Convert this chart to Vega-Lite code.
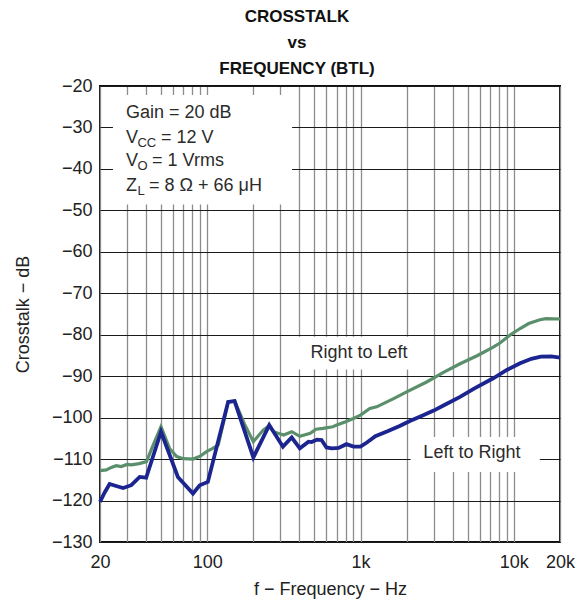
{
  "$schema": "https://vega.github.io/schema/vega-lite/v6.json",
  "width": 460,
  "height": 456,
  "autosize": {"type": "none"},
  "padding": {"left": 100, "top": 86, "right": 20, "bottom": 59},
  "background": "white",
  "title": {
    "text": ["CROSSTALK", "vs", "FREQUENCY (BTL)"],
    "fontSize": 17,
    "fontWeight": "bold",
    "font": "Liberation Sans",
    "lineHeight": 25.8,
    "anchor": "middle",
    "dx": -33,
    "dy": 10,
    "offset": 9,
    "color": "#111111"
  },
  "config": {
    "view": {"stroke": "#111111", "strokeWidth": 2},
    "font": "Liberation Sans"
  },
  "datasets": {
    "boxes": [
      {"f": 24.3, "f2": 358, "db": -22.2, "db2": -48.6},
      {"f": 346, "f2": 2440, "db": -80.5, "db2": -88.4},
      {"f": 2122, "f2": 14770, "db": -104.7, "db2": -113.1}
    ],
    "notes": [
      {"f": 29.5, "db": -27.8, "t": "Gain = 20 dB"},
      {"f": 29.5, "db": -33.7, "t": "V"},
      {"f": 50, "db": -33.7, "t": "= 12 V"},
      {"f": 29.5, "db": -39.3, "t": "V"},
      {"f": 43.7, "db": -39.3, "t": "= 1 Vrms"},
      {"f": 29.5, "db": -45.3, "t": "Z"},
      {"f": 41.8, "db": -45.3, "t": "= 8 Ω + 66 μH"},
      {"f": 472, "db": -85.5, "t": "Right to Left"},
      {"f": 2570, "db": -109.7, "t": "Left to Right"}
    ],
    "subs": [
      {"f": 29.5, "db": -33.7, "t": "CC"},
      {"f": 29.5, "db": -39.3, "t": "O"},
      {"f": 29.5, "db": -45.3, "t": "L"}
    ],
    "curves": [
      {"s": "Right to Left", "f": 20, "db": -112.8},
      {"s": "Right to Left", "f": 22, "db": -112.6},
      {"s": "Right to Left", "f": 23.7, "db": -112},
      {"s": "Right to Left", "f": 25.5, "db": -111.6},
      {"s": "Right to Left", "f": 27.5, "db": -111.8},
      {"s": "Right to Left", "f": 30, "db": -111.3},
      {"s": "Right to Left", "f": 32, "db": -111.4},
      {"s": "Right to Left", "f": 36, "db": -111.1},
      {"s": "Right to Left", "f": 40.2, "db": -110.6},
      {"s": "Right to Left", "f": 44, "db": -107},
      {"s": "Right to Left", "f": 50, "db": -102.2},
      {"s": "Right to Left", "f": 57, "db": -107.5},
      {"s": "Right to Left", "f": 63.3, "db": -109.4},
      {"s": "Right to Left", "f": 70, "db": -109.9},
      {"s": "Right to Left", "f": 81, "db": -110},
      {"s": "Right to Left", "f": 90, "db": -109.3},
      {"s": "Right to Left", "f": 99, "db": -108.2},
      {"s": "Right to Left", "f": 108, "db": -107.5},
      {"s": "Right to Left", "f": 118, "db": -106.6},
      {"s": "Right to Left", "f": 128, "db": -101},
      {"s": "Right to Left", "f": 137, "db": -96.2},
      {"s": "Right to Left", "f": 151, "db": -96},
      {"s": "Right to Left", "f": 175, "db": -101.5},
      {"s": "Right to Left", "f": 200, "db": -105.8},
      {"s": "Right to Left", "f": 232, "db": -103},
      {"s": "Right to Left", "f": 254, "db": -101.9},
      {"s": "Right to Left", "f": 270, "db": -103.4},
      {"s": "Right to Left", "f": 315, "db": -104.2},
      {"s": "Right to Left", "f": 356, "db": -103.4},
      {"s": "Right to Left", "f": 402, "db": -104.5},
      {"s": "Right to Left", "f": 470, "db": -103.8},
      {"s": "Right to Left", "f": 513, "db": -102.8},
      {"s": "Right to Left", "f": 570, "db": -102.6},
      {"s": "Right to Left", "f": 660, "db": -102.2},
      {"s": "Right to Left", "f": 700, "db": -101.8},
      {"s": "Right to Left", "f": 800, "db": -101},
      {"s": "Right to Left", "f": 898, "db": -100.2},
      {"s": "Right to Left", "f": 1000, "db": -99.4},
      {"s": "Right to Left", "f": 1150, "db": -97.8},
      {"s": "Right to Left", "f": 1275, "db": -97.4},
      {"s": "Right to Left", "f": 1644, "db": -95.4},
      {"s": "Right to Left", "f": 2000, "db": -93.8},
      {"s": "Right to Left", "f": 2700, "db": -91.4},
      {"s": "Right to Left", "f": 3500, "db": -89},
      {"s": "Right to Left", "f": 4460, "db": -87},
      {"s": "Right to Left", "f": 5800, "db": -85},
      {"s": "Right to Left", "f": 7340, "db": -83},
      {"s": "Right to Left", "f": 8120, "db": -82},
      {"s": "Right to Left", "f": 9500, "db": -80},
      {"s": "Right to Left", "f": 10980, "db": -78.5},
      {"s": "Right to Left", "f": 12500, "db": -77.3},
      {"s": "Right to Left", "f": 14800, "db": -76.4},
      {"s": "Right to Left", "f": 16200, "db": -76.1},
      {"s": "Right to Left", "f": 20000, "db": -76.2},
      {"s": "Left to Right", "f": 20, "db": -120.3},
      {"s": "Left to Right", "f": 21.5, "db": -118},
      {"s": "Left to Right", "f": 23.1, "db": -116},
      {"s": "Left to Right", "f": 25.5, "db": -116.5},
      {"s": "Left to Right", "f": 28.3, "db": -117},
      {"s": "Left to Right", "f": 32, "db": -116.3},
      {"s": "Left to Right", "f": 36.3, "db": -114.3},
      {"s": "Left to Right", "f": 40, "db": -114.5},
      {"s": "Left to Right", "f": 50, "db": -103.4},
      {"s": "Left to Right", "f": 64.4, "db": -114.3},
      {"s": "Left to Right", "f": 80.8, "db": -118.3},
      {"s": "Left to Right", "f": 89.4, "db": -116.3},
      {"s": "Left to Right", "f": 101, "db": -115.5},
      {"s": "Left to Right", "f": 137, "db": -96.2},
      {"s": "Left to Right", "f": 151, "db": -96},
      {"s": "Left to Right", "f": 200, "db": -109.6},
      {"s": "Left to Right", "f": 254, "db": -101.8},
      {"s": "Left to Right", "f": 312, "db": -107},
      {"s": "Left to Right", "f": 356, "db": -104.8},
      {"s": "Left to Right", "f": 402, "db": -107.4},
      {"s": "Left to Right", "f": 458, "db": -105.8},
      {"s": "Left to Right", "f": 480, "db": -105.9},
      {"s": "Left to Right", "f": 520, "db": -105.3},
      {"s": "Left to Right", "f": 557, "db": -105.4},
      {"s": "Left to Right", "f": 600, "db": -107.2},
      {"s": "Left to Right", "f": 650, "db": -107.4},
      {"s": "Left to Right", "f": 720, "db": -107.3},
      {"s": "Left to Right", "f": 809, "db": -106.4},
      {"s": "Left to Right", "f": 900, "db": -107},
      {"s": "Left to Right", "f": 1000, "db": -107},
      {"s": "Left to Right", "f": 1100, "db": -106},
      {"s": "Left to Right", "f": 1250, "db": -104.5},
      {"s": "Left to Right", "f": 1500, "db": -103.3},
      {"s": "Left to Right", "f": 1800, "db": -102},
      {"s": "Left to Right", "f": 2100, "db": -100.8},
      {"s": "Left to Right", "f": 2500, "db": -99.6},
      {"s": "Left to Right", "f": 3000, "db": -98.3},
      {"s": "Left to Right", "f": 3500, "db": -97},
      {"s": "Left to Right", "f": 4460, "db": -95},
      {"s": "Left to Right", "f": 5500, "db": -93},
      {"s": "Left to Right", "f": 7340, "db": -90.5},
      {"s": "Left to Right", "f": 9000, "db": -88.5},
      {"s": "Left to Right", "f": 10980, "db": -86.9},
      {"s": "Left to Right", "f": 13000, "db": -85.8},
      {"s": "Left to Right", "f": 15000, "db": -85.3},
      {"s": "Left to Right", "f": 17500, "db": -85.2},
      {"s": "Left to Right", "f": 20000, "db": -85.5}
    ]
  },
  "layer": [
    {
      "data": {"name": "boxes"},
      "mark": {"type": "rect", "fill": "white", "stroke": null},
      "encoding": {
        "x": {
          "field": "f",
          "type": "quantitative",
          "scale": {"type": "log", "domain": [20, 20000], "nice": false},
          "axis": {
            "title": "f − Frequency − Hz",
            "values": [20, 30, 40, 50, 60, 70, 80, 90, 100, 200, 300, 400, 500, 600, 700, 800, 900, 1000, 2000, 3000, 4000, 5000, 6000, 7000, 8000, 9000, 10000, 20000],
            "labelExpr": "datum.value == 20 ? '20' : datum.value == 100 ? '100' : datum.value == 1000 ? '1k' : datum.value == 10000 ? '10k' : datum.value == 20000 ? '20k' : ''",
            "grid": true,
            "gridColor": "#8c8c8c",
            "gridWidth": 1.3,
            "ticks": false,
            "domain": false,
            "labelFontSize": 18,
            "labelColor": "#222222",
            "labelPadding": 11,
            "labelOverlap": false,
            "labelFlush": false,
            "labelBound": false,
            "titleFontSize": 18,
            "titleFontWeight": "normal",
            "titleColor": "#222222",
            "titlePadding": 9
          }
        },
        "x2": {"field": "f2"},
        "y": {
          "field": "db",
          "type": "quantitative",
          "scale": {"domain": [-130, -20], "nice": false, "zero": false},
          "axis": {
            "title": "Crosstalk − dB",
            "values": [-130, -120, -110, -100, -90, -80, -70, -60, -50, -40, -30, -20],
            "grid": true,
            "gridColor": "#1a1a1a",
            "gridWidth": 1.2,
            "ticks": false,
            "domain": false,
            "labelFontSize": 18,
            "labelColor": "#222222",
            "labelPadding": 8,
            "labelFlush": false,
            "titleFontSize": 18,
            "titleFontWeight": "normal",
            "titleColor": "#222222",
            "titlePadding": 19
          }
        },
        "y2": {"field": "db2"}
      }
    },
    {
      "data": {"name": "notes"},
      "mark": {"type": "text", "align": "left", "baseline": "alphabetic", "fontSize": 18, "color": "#2b2b2b"},
      "encoding": {
        "x": {"field": "f", "type": "quantitative"},
        "y": {"field": "db", "type": "quantitative"},
        "text": {"field": "t"}
      }
    },
    {
      "data": {"name": "subs"},
      "mark": {"type": "text", "align": "left", "baseline": "alphabetic", "fontSize": 13, "dx": 11.5, "dy": 4, "color": "#2b2b2b"},
      "encoding": {
        "x": {"field": "f", "type": "quantitative"},
        "y": {"field": "db", "type": "quantitative"},
        "text": {"field": "t"}
      }
    },
    {
      "data": {"name": "curves"},
      "transform": [{"filter": "datum.s == 'Right to Left'"}],
      "mark": {"type": "line", "color": "#5a8f6b", "strokeWidth": 3.2},
      "encoding": {
        "x": {"field": "f", "type": "quantitative"},
        "y": {"field": "db", "type": "quantitative"}
      }
    },
    {
      "data": {"name": "curves"},
      "transform": [{"filter": "datum.s == 'Left to Right'"}],
      "mark": {"type": "line", "color": "#1c2490", "strokeWidth": 3.8},
      "encoding": {
        "x": {"field": "f", "type": "quantitative"},
        "y": {"field": "db", "type": "quantitative"}
      }
    }
  ]
}
